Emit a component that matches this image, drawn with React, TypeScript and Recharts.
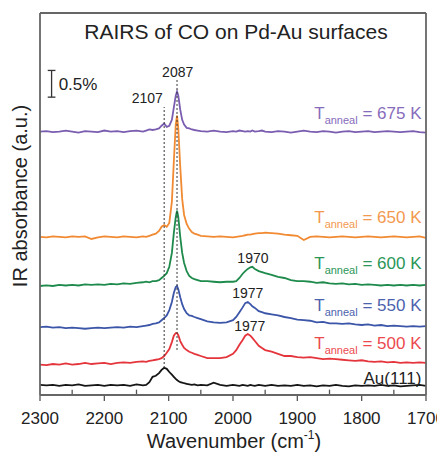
import React from "react";
import {
  LineChart,
  Line,
  XAxis,
  YAxis,
  ReferenceLine,
  ReferenceDot,
} from "recharts";

// wavenumber grid (cm-1), denser around the CO bands
const WAVENUMBER = [
  2300, 2290, 2280, 2270, 2260, 2250, 2240, 2230, 2220, 2210,
  2200, 2190, 2180, 2170, 2160, 2150, 2140, 2135, 2130, 2125,
  2120, 2115, 2111, 2107, 2103, 2099, 2095, 2092, 2089, 2087,
  2085, 2082, 2079, 2076, 2072, 2068, 2064, 2060, 2055, 2050,
  2040, 2030, 2020, 2010, 2000, 1995, 1990, 1985, 1981, 1977,
  1973, 1970, 1966, 1960, 1955, 1950, 1940, 1930, 1920, 1910,
  1900, 1890, 1880, 1870, 1860, 1850, 1840, 1830, 1820, 1810,
  1800, 1790, 1780, 1770, 1760, 1750, 1740, 1730, 1720, 1710,
  1700,
];

// absorbance (%) relative to each trace's own baseline
const AU111 = [
  0.02, 0.01, 0.02, 0, 0.02, 0.01, 0.03, 0, 0.01, 0.02,
  0, 0.02, 0.01, 0.02, 0, 0.03, 0.01, 0.02, 0.07, 0.17,
  0.19, 0.24, 0.3, 0.34, 0.32, 0.26, 0.21, 0.17, 0.13, 0.11,
  0.09, 0.07, 0.06, 0.05, 0.04, 0.03, 0.02, 0.03, 0.01, 0.02,
  0.01, 0.06, 0.02, 0, 0.02, 0.01, 0, 0.02, 0.01, 0,
  0.02, 0.01, 0, 0.02, 0.01, 0, 0.02, 0, 0.01, 0,
  0.02, 0, 0.01, -0.01, 0.01, 0, 0.02, 0, -0.01, 0.01,
  0, 0.01, 0, 0.02, 0, 0.01, -0.01, 0, 0.01, 0.02,
  0,
];

const T500 = [
  -0.03, -0.04, -0.02, -0.03, -0.01, -0.03, -0.02, 0, -0.02, -0.01,
  0, -0.02, 0, 0.01, 0, 0.02, 0.03, 0.02, 0.04, 0.05,
  0.06, 0.07, 0.09, 0.13, 0.19, 0.26, 0.39, 0.51, 0.56, 0.56,
  0.52, 0.41, 0.34, 0.28, 0.24, 0.21, 0.19, 0.17, 0.15, 0.13,
  0.09, 0.09, 0.09, 0.11, 0.17, 0.24, 0.34, 0.43, 0.51, 0.54,
  0.51, 0.47, 0.41, 0.32, 0.28, 0.24, 0.21, 0.17, 0.13, 0.13,
  0.11, 0.1, 0.11, 0.09, 0.07, 0.08, 0.07, 0.06, 0.05, 0.04,
  0.05, 0.03, 0.02, 0.03, 0.01, 0.02, 0, 0.01, 0, 0.01,
  0,
];

const T550 = [
  0, 0.01, -0.01, 0, -0.02, -0.01, -0.02, -0.03, -0.02, -0.01,
  -0.02, -0.01, 0, -0.01, 0.01, 0, 0.02, 0.03, 0.04, 0.06,
  0.07, 0.09, 0.13, 0.17, 0.22, 0.32, 0.47, 0.64, 0.75, 0.77,
  0.71, 0.56, 0.43, 0.34, 0.26, 0.22, 0.21, 0.19, 0.17, 0.15,
  0.11, 0.09, 0.08, 0.09, 0.13, 0.19, 0.28, 0.37, 0.45, 0.47,
  0.43, 0.39, 0.36, 0.3, 0.28, 0.26, 0.24, 0.22, 0.19, 0.17,
  0.14, 0.13, 0.12, 0.09, 0.1, 0.07, 0.07, 0.06, 0.07, 0.05,
  0.04, 0.05, 0.03, 0.04, 0.02, 0.03, 0.02, 0.01, 0.02, 0.01,
  0.02,
];

const T600 = [
  -0.02, -0.01, -0.02, 0, -0.01, 0, -0.01, 0.01, 0, 0.01,
  0, 0.02, 0.01, 0.03, 0.02, 0.04, 0.05, 0.06, 0.05, 0.07,
  0.07, 0.09, 0.13, 0.17, 0.22, 0.34, 0.6, 0.97, 1.27, 1.39,
  1.27, 0.9, 0.6, 0.41, 0.26, 0.17, 0.13, 0.11, 0.09, 0.07,
  0.07, 0.06, 0.05, 0.06, 0.06, 0.07, 0.13, 0.21, 0.26, 0.3,
  0.33, 0.34, 0.3, 0.26, 0.24, 0.22, 0.19, 0.15, 0.13, 0.09,
  0.07, 0.07, 0.06, 0.04, 0.05, 0.03, 0.02, 0.03, 0.01, 0.02,
  0, 0.01, 0, -0.01, 0, -0.01, 0, -0.01, 0, -0.01,
  0,
];

const T650 = [
  0, -0.01, 0.01, 0, -0.01, 0.01, 0, 0.01, -0.04, -0.01,
  0.01, 0, -0.01, 0.01, 0, -0.01, 0.01, 0, 0.02, 0.04,
  0.06, 0.11, 0.19, 0.22, 0.19, 0.26, 0.66, 1.4, 2.1, 2.27,
  2.02, 1.31, 0.71, 0.41, 0.24, 0.15, 0.09, 0.06, 0.04, 0.02,
  0.01, 0, 0.01, 0, -0.01, 0, 0.01, 0.02, 0.03, 0.04,
  0.04, 0.05, 0.06, 0.07, 0.07, 0.08, 0.07, 0.06, 0.04, 0.03,
  0.02, -0.06, 0, 0.01, 0, -0.01, 0, 0.01, 0, -0.01,
  0, 0.01, 0, -0.01, 0, 0.01, 0, -0.01, 0, 0.01,
  -0.02,
];

const T675 = [
  0, 0.01, -0.01, 0, 0.02, 0, -0.02, 0.01, 0, -0.01,
  0.02, 0, 0.01, -0.01, 0.01, 0.02, 0, 0.02, 0.04, 0.03,
  0.04, 0.06, 0.11, 0.15, 0.09, 0.11, 0.22, 0.45, 0.67, 0.75,
  0.67, 0.41, 0.22, 0.13, 0.07, 0.06, 0.04, 0.03, 0.02, 0.01,
  0, 0.02, 0, -0.01, 0.01, 0, 0.02, 0.01, 0, 0.01,
  0, 0.02, 0, 0.01, 0.02, 0, -0.01, 0.01, 0, -0.02,
  0, 0.02, 0, -0.01, 0.01, 0, -0.02, 0, 0.01, -0.01,
  0, 0.01, -0.01, 0, 0.01, 0, -0.01, 0, 0.01, -0.01,
  -0.02,
];

// vertical offsets used to stack the traces (%)
const OFFSETS = [0.17, 0.6, 1.27, 2.06, 2.96, 4.93];
const TEMPS = ["", "500", "550", "600", "650", "675"];
const X_TICKS = [2300, 2250, 2200, 2150, 2100, 2050, 2000, 1950, 1900, 1850, 1800, 1750, 1700];
const Y_DOMAIN = [0, 7.15];
const TICK_LEN = 0.1; // tick length in y units

const SERIES = [
  { key: "au", values: AU111, color: "#151515", text: "#222" },
  { key: "t500", values: T500, color: "#e5353c", text: "#ec4a4f" },
  { key: "t550", values: T550, color: "#3b55a8", text: "#4d62ae" },
  { key: "t600", values: T600, color: "#1e8a4c", text: "#2b9657" },
  { key: "t650", values: T650, color: "#f18a32", text: "#f3994f" },
  { key: "t675", values: T675, color: "#7a5db0", text: "#876cbb" },
];

// label anchors (data coordinates)
const SERIES_LABEL_X = 1707;
const SERIES_LABEL_Y = [0.21, 0.86, 1.57, 2.36, 3.22, 5.16];
const PEAK_LABELS = [
  { w: 2086, y: 5.955, text: "2087", anchor: "middle" },
  { w: 2109, y: 5.468, text: "2107", anchor: "end" },
  { w: 1969, y: 2.472, text: "1970", anchor: "middle" },
  { w: 1977, y: 1.816, text: "1977", anchor: "middle" },
  { w: 1974, y: 1.199, text: "1977", anchor: "middle" },
];
const GUIDES = [
  { w: 2107, from: 0.505, to: 5.39 },
  { w: 2087, from: 0.843, to: 5.9 },
];
const SCALE_BAR = { w: 2282, base: 5.575, size: 0.5, label: "0.5%" };

const FONT = "'Liberation Sans', Arial, Helvetica, sans-serif";
const FRAME_COLOR = "#666";

const data = WAVENUMBER.map((w, i) => {
  const row: any = { w };
  SERIES.forEach((s, j) => {
    row[s.key] = s.values[i] + OFFSETS[j];
  });
  return row;
});

const XTickLabel = (props: any) => {
  const { x, y, payload } = props;
  if (payload.value % 100 !== 0) return <g />;
  return (
    <text x={x} y={y + 29} textAnchor="middle" fontSize={17} fill="#222" fontFamily={FONT}>
      {payload.value}
    </text>
  );
};

export default function App() {
  return (
    <div style={{ position: "relative", width: 437, height: 445, fontFamily: FONT }}>
      <style>{`.recharts-surface{overflow:visible}`}</style>
      <LineChart
        width={437}
        height={445}
        data={data}
        margin={{ top: 4, right: 18, bottom: 28, left: 31 }}
      >
        <XAxis
          dataKey="w"
          type="number"
          domain={[1700, 2300]}
          reversed
          allowDataOverflow
          ticks={X_TICKS}
          interval={0}
          height={30}
          tickSize={0}
          tickMargin={0}
          tickLine={false}
          tick={<XTickLabel />}
          axisLine={false}
        />
        <YAxis type="number" domain={Y_DOMAIN} allowDataOverflow width={1} tick={false} tickLine={false} axisLine={false} />
        <YAxis
          yAxisId="r"
          orientation="right"
          type="number"
          domain={Y_DOMAIN}
          allowDataOverflow
          width={1}
          tick={false}
          tickLine={false}
          axisLine={false}
        />
        <XAxis
          xAxisId="top"
          orientation="top"
          dataKey="w"
          type="number"
          domain={[1700, 2300]}
          reversed
          height={1}
          tick={false}
          tickLine={false}
          axisLine={false}
        />
        {[...SERIES].reverse().map((s) => (
          <Line
            key={s.key}
            dataKey={s.key}
            type="linear"
            stroke={s.color}
            strokeWidth={1.8}
            dot={false}
            isAnimationActive={false}
          />
        ))}
        {GUIDES.map((g) => (
          <ReferenceLine
            key={g.w}
            segment={[{ x: g.w, y: g.from }, { x: g.w, y: g.to }]}
            stroke="#333"
            strokeWidth={1}
            strokeDasharray="2 2"
          />
        ))}
        <ReferenceLine
          segment={[{ x: SCALE_BAR.w, y: SCALE_BAR.base }, { x: SCALE_BAR.w, y: SCALE_BAR.base + SCALE_BAR.size }]}
          stroke="#333"
          strokeWidth={1.3}
        />
        <ReferenceLine
          segment={[{ x: SCALE_BAR.w + 6, y: SCALE_BAR.base }, { x: SCALE_BAR.w - 6, y: SCALE_BAR.base }]}
          stroke="#333"
          strokeWidth={1.3}
        />
        <ReferenceLine
          segment={[
            { x: SCALE_BAR.w + 6, y: SCALE_BAR.base + SCALE_BAR.size },
            { x: SCALE_BAR.w - 6, y: SCALE_BAR.base + SCALE_BAR.size },
          ]}
          stroke="#333"
          strokeWidth={1.3}
        />
        {/* x ticks: minor inward, major outward */}
        {X_TICKS.map((t) => (
          <ReferenceLine
            key={"tick" + t}
            segment={
              t % 100 === 0
                ? [{ x: t, y: Y_DOMAIN[0] }, { x: t, y: Y_DOMAIN[0] - TICK_LEN * 1.1 }]
                : [{ x: t, y: Y_DOMAIN[0] }, { x: t, y: Y_DOMAIN[0] + TICK_LEN }]
            }
            stroke="#555"
            strokeWidth={1.3}
            ifOverflow="visible"
          />
        ))}
        {/* plot frame */}
        <ReferenceLine x={2300} stroke={FRAME_COLOR} strokeWidth={1.8} ifOverflow="visible" />
        <ReferenceLine x={1700} stroke={FRAME_COLOR} strokeWidth={1.8} ifOverflow="visible" />
        <ReferenceLine y={Y_DOMAIN[0]} stroke={FRAME_COLOR} strokeWidth={1.8} ifOverflow="visible" />
        <ReferenceLine y={Y_DOMAIN[1]} stroke={FRAME_COLOR} strokeWidth={1.8} ifOverflow="visible" />
        <ReferenceDot
          x={SCALE_BAR.w - 11}
          y={SCALE_BAR.base + SCALE_BAR.size / 2}
          r={0}
          shape={(p: any) => (
            <text x={p.cx} y={p.cy + 6} fontSize={17} fill="#222" fontFamily={FONT}>
              {SCALE_BAR.label}
            </text>
          )}
        />
        {PEAK_LABELS.map((l, i) => (
          <ReferenceDot
            key={i}
            x={l.w}
            y={l.y}
            r={0}
            shape={(p: any) => (
              <text x={p.cx} y={p.cy} textAnchor={l.anchor} fontSize={14} fill="#222" fontFamily={FONT}>
                {l.text}
              </text>
            )}
          />
        ))}
        {SERIES.map((s, i) => (
          <ReferenceDot
            key={"lab" + s.key}
            x={SERIES_LABEL_X}
            y={SERIES_LABEL_Y[i]}
            r={0}
            shape={(p: any) =>
              TEMPS[i] === "" ? (
                <text x={p.cx} y={p.cy} textAnchor="end" fontSize={17} fill={s.text} fontFamily={FONT}>
                  Au(111)
                </text>
              ) : (
                <text x={p.cx} y={p.cy} textAnchor="end" fontSize={17} fill={s.text} fontFamily={FONT}>
                  T
                  <tspan fontSize={11} dy={5}>
                    anneal
                  </tspan>
                  <tspan dy={-5}>{` = ${TEMPS[i]} K`}</tspan>
                </text>
              )
            }
          />
        ))}
      </LineChart>
      <svg
        width={437}
        height={445}
        style={{ position: "absolute", left: 0, top: 0, pointerEvents: "none", overflow: "visible" }}
        fontFamily={FONT}
      >
        <text x={228} y={31} textAnchor="middle" fontSize={21} fill="#222">
          RAIRS of CO on Pd-Au surfaces
        </text>
        <text
          x={12}
          y={188}
          transform="rotate(-90 12 188)"
          textAnchor="middle"
          dominantBaseline="central"
          fontSize={20}
          fill="#222"
        >
          IR absorbance (a.u.)
        </text>
        <text x={226} y={440} textAnchor="middle" fontSize={20} fill="#222">
          Wavenumber (cm
          <tspan fontSize={12} dy={-9}>-1</tspan>
          <tspan dy={9}>)</tspan>
        </text>
      </svg>
    </div>
  );
}
